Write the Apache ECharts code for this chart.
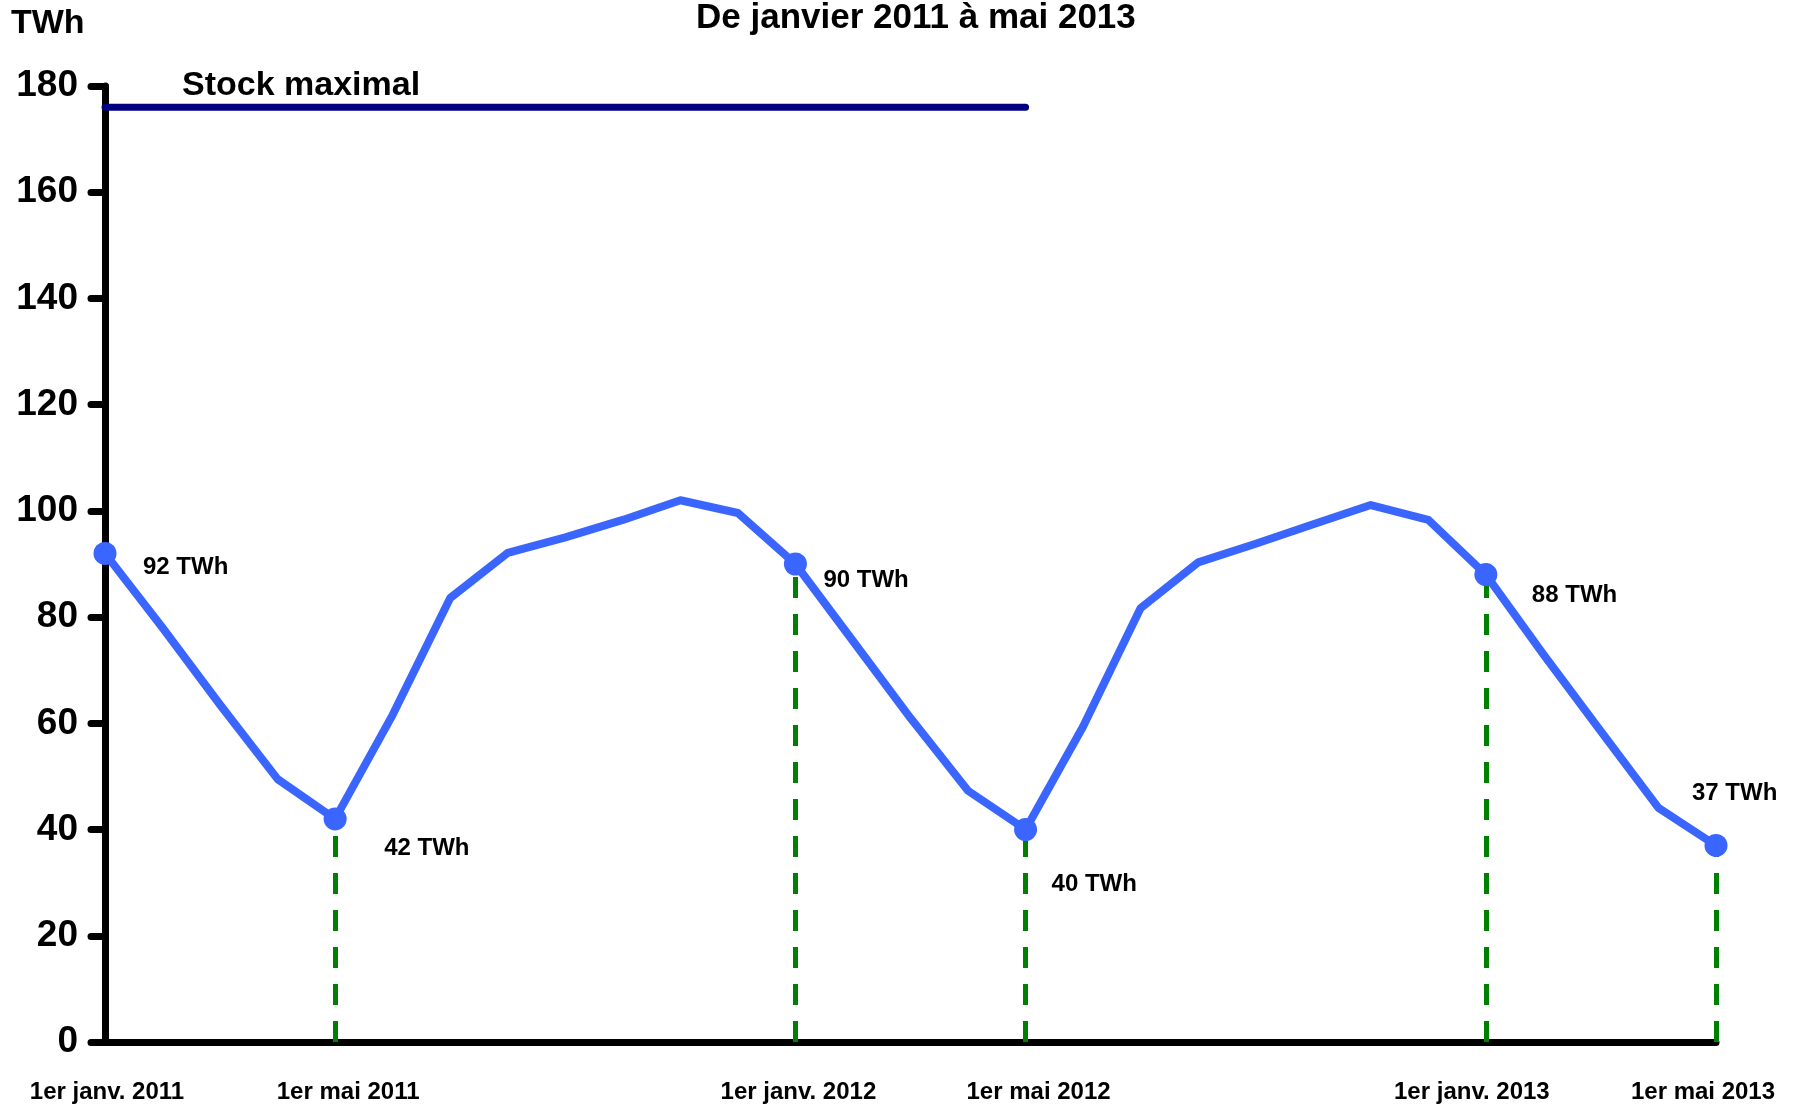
<!DOCTYPE html>
<html>
<head>
<meta charset="utf-8">
<script src="https://cdn.jsdelivr.net/npm/echarts@6/dist/echarts.min.js"></script>
<style>
html,body{margin:0;padding:0;background:#fff;}
#chart{width:1801px;height:1107px;}
</style>
</head>
<body>
<div id="chart"></div>
<script>
// ---- data ----
const months = [
  'janv. 2011','févr. 2011','mars 2011','avr. 2011','mai 2011','juin 2011','juil. 2011','août 2011','sept. 2011','oct. 2011','nov. 2011','déc. 2011',
  'janv. 2012','févr. 2012','mars 2012','avr. 2012','mai 2012','juin 2012','juil. 2012','août 2012','sept. 2012','oct. 2012','nov. 2012','déc. 2012',
  'janv. 2013','févr. 2013','mars 2013','avr. 2013','mai 2013'
];
const stockTWh = [92, 78, 63.5, 49.5, 42, 61.6, 83.6, 92.1, 95, 98.3, 102, 99.6,
                  90, 75.5, 61, 47.3, 40, 59.4, 81.7, 90.3, 93.8, 97.5, 101.1, 98.3,
                  88, 73, 58.5, 44.1, 37];
const highlightIdx = [0, 4, 12, 16, 24, 28];
const dropLineIdx = [4, 12, 16, 24, 28];
const stockMax = 176;
const stockMaxLastIdx = 16;
const xTickLabels = {0:'1er janv. 2011', 4:'1er mai 2011', 12:'1er janv. 2012', 16:'1er mai 2012', 24:'1er janv. 2013', 28:'1er mai 2013'};
const yTicks = {min:0, max:180, step:20};
const titleText = 'De janvier 2011 à mai 2013';
const unitText = 'TWh';
const stockMaxText = 'Stock maximal';

// ---- styles ----
const FONT = "'Liberation Sans', Arial, sans-serif";
const labelOffsets = {0:[38,14], 4:[49,29], 12:[28,16], 16:[26,55], 24:[46,21], 28:[-24,-52]};
// horizontal nudges of the x tick labels (padding left/right)
const xLabelPad = {0:[0,0,0,4], 4:[0,0,0,26], 12:[0,0,0,6], 16:[0,0,0,26], 24:[0,28,0,0], 28:[0,26,0,0]};

const stockMaxSeries = months.map((m, i) => i <= stockMaxLastIdx ? stockMax : '-');
const highlightData = highlightIdx.map(i => ({
  value: [i, stockTWh[i]],
  label: {
    show: true, position: 'inside', align: 'left', verticalAlign: 'middle',
    offset: labelOffsets[i], formatter: Math.round(stockTWh[i]) + ' TWh',
    color: '#000', fontFamily: FONT, fontWeight: 'bold', fontSize: 24
  }
}));
const dropLines = dropLineIdx.map(i => [{coord: [i, 0]}, {coord: [i, stockTWh[i]]}]);

const rich = {};
Object.keys(xLabelPad).forEach(k => {
  rich['l' + k] = {padding: xLabelPad[k], color: '#000', fontFamily: FONT, fontWeight: 'bold', fontSize: 24};
});

const chart = echarts.init(document.getElementById('chart'), null, {renderer: 'canvas'});
chart.setOption({
  animation: false,
  backgroundColor: '#fff',
  title: [
    {text: titleText, left: 696, top: 1, padding: 0,
     textStyle: {fontFamily: FONT, fontWeight: 'bold', fontSize: 35, color: '#000'}},
    {text: unitText, left: 11, top: 7, padding: 0,
     textStyle: {fontFamily: FONT, fontWeight: 'bold', fontSize: 34, color: '#000'}},
    {text: stockMaxText, left: 182, top: 69, padding: 0,
     textStyle: {fontFamily: FONT, fontWeight: 'bold', fontSize: 34, color: '#000'}}
  ],
  grid: {left: 105, right: 85, top: 86, bottom: 65, containLabel: false},
  xAxis: {
    type: 'category', data: months, boundaryGap: false,
    axisLine: {lineStyle: {color: '#000', width: 7, cap: 'round'}},
    axisTick: {show: false},
    splitLine: {show: false},
    axisLabel: {
      interval: 0, margin: 38, color: '#000', fontFamily: FONT, fontWeight: 'bold', fontSize: 24,
      formatter: (v, i) => xTickLabels[i] ? '{l' + i + '|' + xTickLabels[i] + '}' : '',
      rich: rich
    }
  },
  yAxis: {
    type: 'value', min: yTicks.min, max: yTicks.max, interval: yTicks.step,
    axisLine: {show: true, lineStyle: {color: '#000', width: 7, cap: 'round'}},
    axisTick: {show: true, length: 14, lineStyle: {color: '#000', width: 7, cap: 'round'}},
    splitLine: {show: false},
    axisLabel: {margin: 27, color: '#000', fontFamily: FONT, fontWeight: 'bold', fontSize: 37}
  },
  series: [
    {
      type: 'line', data: stockMaxSeries, symbol: 'none', silent: true,
      lineStyle: {color: '#000080', width: 7, cap: 'round'}, z: 3
    },
    {
      type: 'line', data: stockTWh, showSymbol: false, symbol: 'none', silent: true,
      lineStyle: {color: '#3a66ff', width: 8, join: 'round'}, z: 4,
      markLine: {
        silent: true, symbol: 'none', label: {show: false},
        lineStyle: {color: '#008000', width: 5, type: [21, 16]},
        data: dropLines, z: 2
      }
    },
    {
      type: 'scatter', data: highlightData, symbol: 'circle', symbolSize: 23,
      itemStyle: {color: '#3a66ff', opacity: 1}, z: 6, silent: true
    }
  ]
});
</script>
</body>
</html>
